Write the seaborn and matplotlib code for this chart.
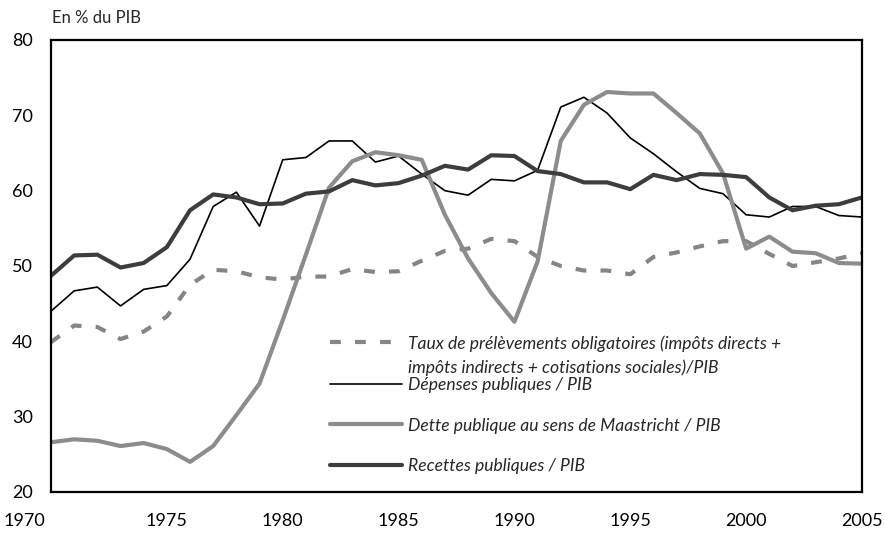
import numpy as np
import pandas as pd
import matplotlib
matplotlib.use('Agg')
import matplotlib.pyplot as plt
import matplotlib.transforms as mtransforms
import seaborn as sns
from matplotlib.lines import Line2D

# data (en % du PIB)
years = list(range(1970, 2006))

taux = [39.9, 42.1, 41.9, 40.3, 41.3, 43.3, 47.5, 49.5, 49.3, 48.5,
        48.2, 48.6, 48.6, 49.6, 49.2, 49.3, 50.7, 52.0, 52.3, 53.6,
        53.3, 51.2, 50.0, 49.4, 49.4, 48.9, 51.2, 51.8, 52.6, 53.3,
        53.3, 51.6, 50.0, 50.5, 51.0, 51.7]

depenses = [44.0, 46.7, 47.2, 44.7, 46.9, 47.4, 50.9, 57.9, 59.8, 55.3,
            64.1, 64.4, 66.6, 66.6, 63.8, 64.6, 62.2, 60.0, 59.4, 61.5,
            61.3, 62.7, 71.1, 72.4, 70.3, 67.0, 64.9, 62.5, 60.3, 59.6,
            56.8, 56.5, 57.9, 57.9, 56.7, 56.5]

dette = [26.6, 27.0, 26.8, 26.1, 26.5, 25.7, 24.0, 26.1, 30.2, 34.4,
         42.8, 51.5, 60.4, 63.9, 65.1, 64.7, 64.1, 56.8, 51.0, 46.4,
         42.6, 50.6, 66.6, 71.4, 73.1, 72.9, 72.9, 70.3, 67.6, 62.3,
         52.3, 53.9, 51.9, 51.7, 50.4, 50.3]

recettes = [48.7, 51.4, 51.5, 49.8, 50.4, 52.5, 57.4, 59.5, 59.1, 58.2,
            58.3, 59.6, 59.9, 61.4, 60.7, 61.0, 62.0, 63.3, 62.8, 64.7,
            64.6, 62.6, 62.2, 61.1, 61.1, 60.2, 62.1, 61.4, 62.2, 62.1,
            61.8, 59.1, 57.4, 58.0, 58.2, 59.1]

label_taux_1 = "Taux de prélèvements obligatoires (impôts directs +"
label_taux_2 = "impôts indirects + cotisations sociales)/PIB"
label_dep = "Dépenses publiques / PIB"
label_dette = "Dette publique au sens de Maastricht / PIB"
label_rec = "Recettes publiques / PIB"

xticks = [1970, 1975, 1980, 1985, 1990, 1995, 2000, 2005]
yticks = [20, 30, 40, 50, 60, 70, 80]

df = pd.DataFrame({'annee': years, 'taux': taux, 'depenses': depenses,
                   'dette': dette, 'recettes': recettes})

sns.set_theme(style='white')
plt.rcParams['font.family'] = ['Lato', 'DejaVu Sans']

fig = plt.figure(figsize=(8.85, 5.33), dpi=100)
ax = fig.add_axes([51/885, 41/533, 811/885, 452/533])

sns.lineplot(data=df, x='annee', y='taux', ax=ax, color='#858585', lw=3.0,
             linestyle=(0, (2.6, 3.4)), dash_capstyle='butt')
sns.lineplot(data=df, x='annee', y='depenses', ax=ax, color='black', lw=1.2)
sns.lineplot(data=df, x='annee', y='dette', ax=ax, color='#8c8c8c', lw=3.0)
sns.lineplot(data=df, x='annee', y='recettes', ax=ax, color='#3d3d3d', lw=3.0)

ax.set_xlim(1970, 2005)
ax.set_ylim(20, 80)
ax.set_xticks(xticks)
ax.set_yticks(yticks)
ax.set_xlabel('')
ax.set_ylabel('')
ax.tick_params(axis='both', direction='in', length=5, width=1.3,
               labelsize=13, colors='black')
ax.tick_params(axis='x', pad=15)
ax.tick_params(axis='y', pad=13)
for s in ax.spines.values():
    s.set_visible(True)
    s.set_color('black')
    s.set_linewidth(1.6)

# first year label sits left of its tick, as in the original
first = ax.xaxis.get_majorticklabels()[0]
first.set_horizontalalignment('right')
first.set_transform(first.get_transform() +
                    mtransforms.ScaledTranslation(-6/100, 0, fig.dpi_scale_trans))

fig.text(52/885, 1 - 18/533, "En % du PIB", fontsize=12, va='center', ha='left')

# legend in two blocks to match the uneven spacing
leg_font = {'style': 'italic', 'size': 12.6}
hA = [Line2D([], [], color='#858585', lw=3.0, linestyle=(0, (2.6, 3.4))),
      Line2D([], [], color='none', lw=0)]
legA = ax.legend(hA, [label_taux_1, label_taux_2], loc='upper left',
                 bbox_to_anchor=(330/885, 1 - 335/533), bbox_transform=fig.transFigure,
                 frameon=False, prop=leg_font, handlelength=4.1, handletextpad=0.35,
                 borderpad=0, borderaxespad=0, labelspacing=0.45)
ax.add_artist(legA)

hB = [Line2D([], [], color='black', lw=1.2),
      Line2D([], [], color='#8c8c8c', lw=3.0),
      Line2D([], [], color='#3d3d3d', lw=3.0)]
ax.legend(hB, [label_dep, label_dette, label_rec], loc='upper left',
          bbox_to_anchor=(330/885, 1 - 377/533), bbox_transform=fig.transFigure,
          frameon=False, prop=leg_font, handlelength=4.1, handletextpad=0.35,
          borderpad=0, borderaxespad=0, labelspacing=1.4)

fig.savefig('out.png', dpi=100)
